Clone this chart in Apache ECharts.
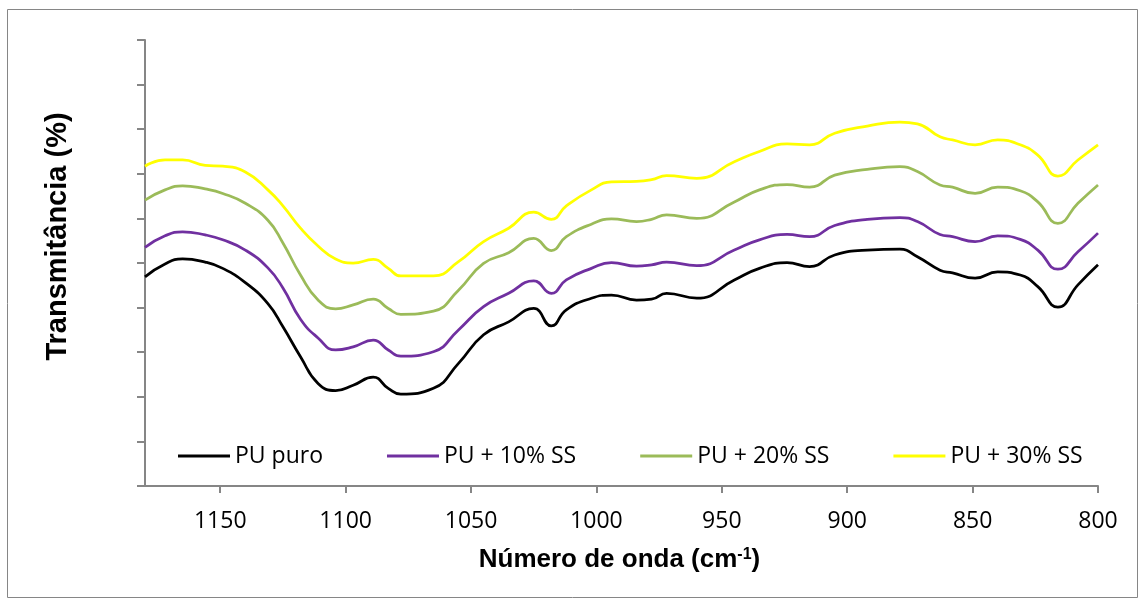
<!DOCTYPE html>
<html>
<head>
<meta charset="utf-8">
<script src="https://cdn.jsdelivr.net/npm/echarts@6/dist/echarts.min.js"></script>
<style>
html,body{margin:0;padding:0;background:#fff;}
#chart{width:1145px;height:601px;}
</style>
</head>
<body>
<div id="chart"></div>
<script>
// Wavenumbers (cm-1)
const wavenumbers = [1180, 1172, 1165, 1156, 1149, 1140, 1131, 1125, 1118, 1111, 1104, 1097, 1089, 1083, 1078, 1065, 1055, 1045, 1035, 1025, 1018, 1012, 1002, 994, 984, 978, 972, 960, 945, 935, 924, 915, 905, 892, 879, 872, 863, 858, 849, 840, 831, 824, 816, 808, 800];
// Transmittance (arbitrary units, y-axis has no labels)
const puPuro = [46.9, 49.8, 50.9, 50.2, 48.8, 45.6, 40.9, 35.7, 29.0, 23.0, 21.4, 22.6, 24.4, 21.9, 20.6, 21.9, 27.5, 33.9, 36.8, 39.8, 35.9, 39.5, 42.1, 42.8, 41.7, 41.9, 43.2, 42.1, 46.2, 48.8, 50.1, 49.2, 51.8, 52.9, 53.1, 51.4, 48.4, 47.8, 46.6, 48.0, 47.3, 44.7, 40.1, 45.1, 49.6];
const pu10 = [53.5, 56.1, 57.0, 56.3, 55.2, 52.9, 48.9, 44.4, 37.4, 33.2, 30.5, 31.2, 32.7, 30.5, 29.1, 30.1, 35.0, 40.2, 43.2, 46.0, 43.2, 46.2, 48.8, 50.1, 49.3, 49.6, 50.2, 49.4, 52.9, 55.2, 56.4, 55.9, 58.4, 59.8, 60.2, 59.3, 56.4, 55.9, 54.8, 56.1, 55.3, 52.9, 48.6, 52.5, 56.7];
const pu20 = [64.1, 66.4, 67.3, 66.6, 65.6, 63.4, 59.6, 54.5, 47.3, 41.7, 39.7, 40.6, 41.9, 39.8, 38.5, 39.2, 43.9, 49.9, 52.3, 55.5, 52.8, 55.9, 58.7, 59.9, 59.3, 59.8, 60.8, 60.0, 63.7, 66.4, 67.6, 67.0, 69.7, 71.0, 71.6, 70.5, 67.5, 67.0, 65.6, 67.0, 66.2, 63.7, 58.9, 63.4, 67.5];
const pu30 = [71.7, 73.1, 73.1, 71.9, 71.7, 70.4, 66.4, 62.8, 57.8, 53.8, 50.9, 50.0, 50.8, 48.8, 47.1, 47.1, 50.3, 54.8, 57.8, 61.4, 59.8, 62.8, 66.4, 68.2, 68.3, 68.7, 69.6, 69.0, 72.7, 75.0, 76.7, 76.5, 79.1, 80.7, 81.6, 81.2, 78.3, 77.6, 76.5, 77.6, 76.5, 74.2, 69.5, 73.1, 76.5];

const seriesNames = ['PU puro', 'PU + 10% SS', 'PU + 20% SS', 'PU + 30% SS'];
const seriesColors = ['#000000', '#7030A0', '#9BBB59', '#FFFF00'];
const seriesValues = [puPuro, pu10, pu20, pu30];
const xTickValues = [800, 850, 900, 950, 1000, 1050, 1100, 1150];

const chart = echarts.init(document.getElementById('chart'), null, {renderer: 'canvas'});
const axisGray = '#868686';

chart.setOption({
  animation: false,
  backgroundColor: '#ffffff',
  grid: {left: 145, right: 47, top: 40, bottom: 115},
  legend: {
    left: 173, top: 438,
    itemGap: 64, itemWidth: 52, itemHeight: 3, icon: 'rect',
    textStyle: {fontFamily: 'Open Sans', fontSize: 23, color: '#000', lineHeight: 26},
    data: seriesNames
  },
  xAxis: {
    type: 'value', min: 800, max: 1180, inverse: true,
    axisLine: {lineStyle: {color: axisGray, width: 2}},
    axisTick: {show: true, length: 7, lineStyle: {color: axisGray, width: 2}, customValues: xTickValues},
    axisLabel: {customValues: xTickValues, margin: 24, fontFamily: 'Open Sans', fontSize: 23, color: '#000',
      formatter: function (v) { return String(v); }},
    splitLine: {show: false}
  },
  yAxis: {
    type: 'value', min: 0, max: 100, interval: 10,
    axisLine: {show: true, lineStyle: {color: axisGray, width: 2}},
    axisTick: {show: true, length: 8, lineStyle: {color: axisGray, width: 2}},
    axisLabel: {show: false},
    splitLine: {show: false}
  },
  graphic: [
    {type: 'rect', shape: {x: 7.5, y: 9.5, width: 1130, height: 588}, style: {fill: 'none', stroke: axisGray, lineWidth: 1}, silent: true, z: -1},
    {type: 'text', x: 57.5, y: 236.5, rotation: Math.PI / 2,
      style: {text: 'Transmitância (%)', font: 'bold 29px "Liberation Sans", Arial, sans-serif', fill: '#000', align: 'center', verticalAlign: 'middle'}},
    {type: 'text', x: 619.5, y: 560,
      style: {text: 'Número de onda (cm{sup|-1})', font: 'bold 26px "Liberation Sans", Arial, sans-serif', fill: '#000', align: 'center', verticalAlign: 'middle',
        rich: {sup: {font: 'bold 16px "Liberation Sans", Arial, sans-serif', fill: '#000', verticalAlign: 'top'}}}}
  ],
  series: seriesNames.map((name, i) => ({
    name: name,
    type: 'line',
    smooth: 0.5,
    symbol: 'none',
    lineStyle: {color: seriesColors[i], width: 2.75},
    itemStyle: {color: seriesColors[i]},
    data: wavenumbers.map((w, j) => [w, seriesValues[i][j]])
  }))
});
</script>
</body>
</html>
